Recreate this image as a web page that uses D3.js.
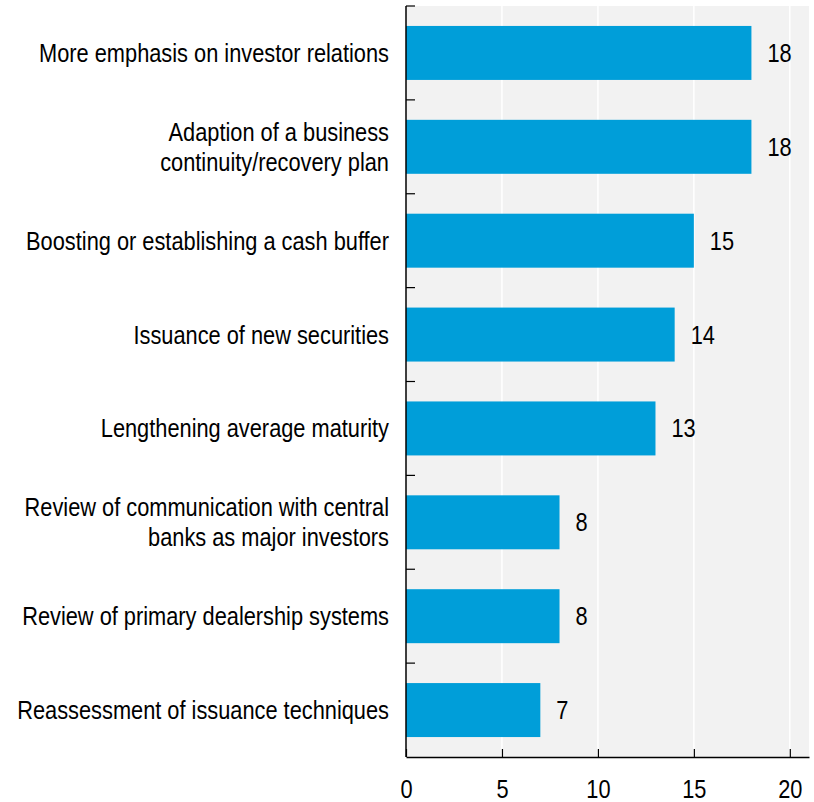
<!DOCTYPE html>
<html>
<head>
<meta charset="utf-8">
<script src="https://cdn.jsdelivr.net/npm/d3@7"></script>
<style>
  html, body { margin: 0; padding: 0; background: #ffffff; }
  svg text { font-family: "Liberation Sans", Arial, sans-serif; fill: #000; }
</style>
</head>
<body>
<svg id="chart" width="814" height="802"></svg>
<script>
// Survey responses: measures taken by debt management offices
const categories = [
  "More emphasis on investor relations",
  "Adaption of a business\ncontinuity/recovery plan",
  "Boosting or establishing a cash buffer",
  "Issuance of new securities",
  "Lengthening average maturity",
  "Review of communication with central\nbanks as major investors",
  "Review of primary dealership systems",
  "Reassessment of issuance techniques"
];
const values = [18, 18, 15, 14, 13, 8, 8, 7];
const xTicks = [0, 5, 10, 15, 20];

const W = 814, H = 802;
const margin = { top: 6, right: 5, bottom: 45, left: 406 };
const plotW = W - margin.left - margin.right;
const plotH = H - margin.top - margin.bottom;
const FONT = 25;
const NARROW = 0.872; // condensed look for the sans face

const svg = d3.select("#chart");
const g = svg.append("g").attr("transform", `translate(${margin.left},${margin.top})`);

const x = d3.scaleLinear().domain([0, 21]).range([0, plotW]);
const y = d3.scaleBand().domain(categories).range([0, plotH])
  .paddingInner(0.425).paddingOuter(0.2125);
const yBounds = d3.scaleBand().domain(categories).range([0, plotH]);

// plot background
g.append("rect").attr("width", plotW).attr("height", plotH).attr("fill", "#f2f2f2");

// vertical gridlines
g.selectAll(".grid").data(xTicks.filter(d => d > 0)).join("line")
  .attr("x1", d => x(d)).attr("x2", d => x(d))
  .attr("y1", 0).attr("y2", plotH)
  .attr("stroke", "#ffffff").attr("stroke-width", 1.5);

// bars
g.selectAll(".bar").data(values).join("rect")
  .attr("x", x(0))
  .attr("y", (d, i) => y(categories[i]))
  .attr("width", d => x(d) - x(0))
  .attr("height", y.bandwidth())
  .attr("fill", "#009ed9");

// value labels
g.selectAll(".val").data(values).join("g")
  .attr("transform", (d, i) => `translate(${x(d) + 16},${y(categories[i]) + y.bandwidth() / 2}) scale(${NARROW},1)`)
  .append("text")
  .attr("dy", "0.36em")
  .attr("font-size", FONT)
  .text(d => d);

// y axis: line with inward ticks at category boundaries
const yAxis = g.append("g");
yAxis.append("line").attr("x1", 0).attr("x2", 0).attr("y1", 0).attr("y2", plotH)
  .attr("stroke", "#000").attr("stroke-width", 1.5);
yAxis.selectAll(".ytick").data(categories).join("line")
  .attr("x1", 0).attr("x2", 9)
  .attr("y1", d => yBounds(d)).attr("y2", d => yBounds(d))
  .attr("stroke", "#000").attr("stroke-width", 1.2);

// category labels, right-aligned against the axis
const labels = g.selectAll(".cat").data(categories).join("g")
  .attr("transform", d => `translate(-17,${y(d) + y.bandwidth() / 2}) scale(${NARROW},1)`)
  .append("text")
  .attr("text-anchor", "end")
  .attr("font-size", FONT);
labels.each(function(d) {
  const lines = d.split("\n");
  const sel = d3.select(this);
  lines.forEach((ln, k) => {
    sel.append("tspan")
      .attr("x", 0)
      .attr("dy", k === 0 ? `${0.36 - (lines.length - 1) * 0.6}em` : "1.2em")
      .text(ln);
  });
});

// x axis with inward ticks
const xAxis = g.append("g").attr("transform", `translate(0,${plotH})`)
  .call(d3.axisBottom(x).tickValues(xTicks).tickSize(-8).tickPadding(23).tickSizeOuter(0));
xAxis.select(".domain").attr("stroke", "#000").attr("stroke-width", 1.5);
xAxis.selectAll(".tick line").attr("stroke", "#000").attr("stroke-width", 1.2);
xAxis.selectAll(".tick text")
  .attr("font-size", FONT)
  .attr("font-family", null)
  .attr("fill", "#000")
  .attr("transform", `scale(${NARROW},1)`);
</script>
</body>
</html>
